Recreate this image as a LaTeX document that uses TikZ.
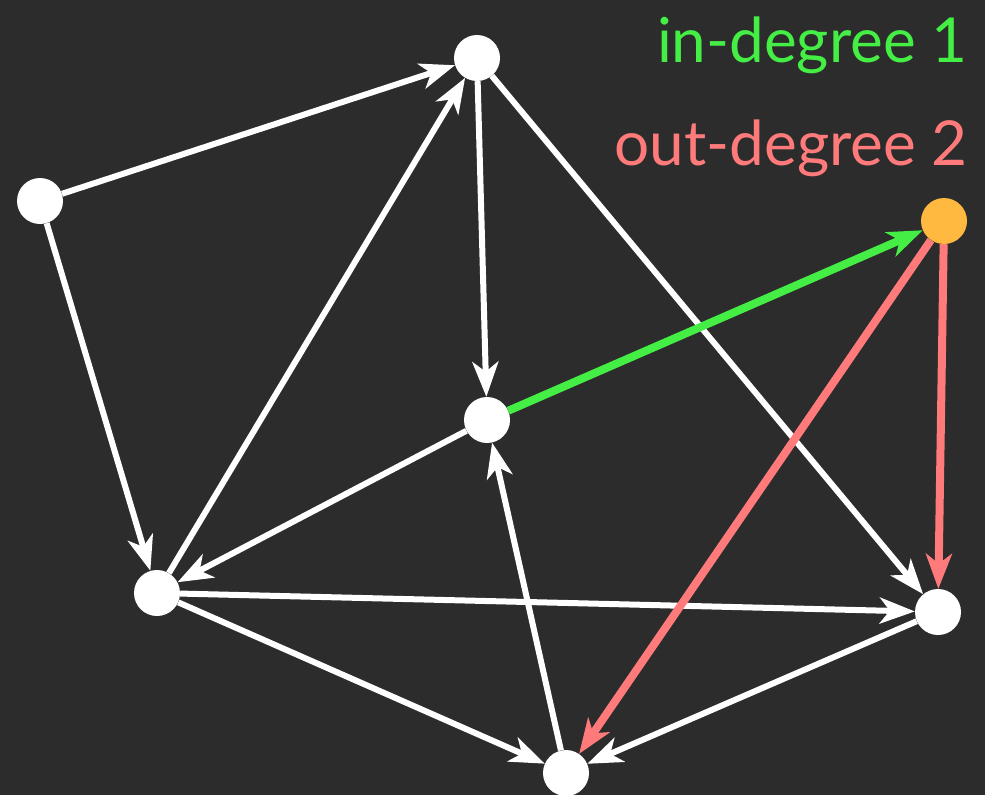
\documentclass[tikz,border=0pt]{standalone}
\usepackage{fontspec}
\setmainfont{Lato}
\usetikzlibrary{arrows.meta}
\definecolor{board}{HTML}{2C2C2C}
\definecolor{ingreen}{HTML}{44EE44}
\definecolor{outpink}{HTML}{FF7B7B}
\definecolor{vorange}{HTML}{FFB940}
\tikzset{
  vert/.style={circle, fill=white, minimum size=46pt, inner sep=0pt},
  edge/.style={draw=white, line width=6pt, -{Stealth[length=35pt,width=26pt,inset=10pt]}},
  inedge/.style={edge, draw=ingreen, line width=8pt},
  outedge/.style={edge, draw=outpink, line width=8pt},
  lbl/.style={font=\fontsize{62}{62}\selectfont, anchor=base east, inner sep=0pt}
}
\begin{document}
\begin{tikzpicture}[x=1pt,y=-1pt]
\fill[board] (0,0) rectangle (985,795);
\useasboundingbox (0,0) rectangle (985,795);
\node[vert] (A) at (477,58) {};
\node[vert] (B) at (40,201) {};
\node[vert, fill=vorange] (C) at (944,221) {};
\node[vert] (D) at (487,420) {};
\node[vert] (E) at (157,593) {};
\node[vert] (F) at (938,612) {};
\node[vert] (G) at (566,773) {};
\path[edge] (B) -- (A);
\path[edge] (B) -- (E);
\path[edge] (E) -- (A);
\path[edge] (A) -- (D);
\path[edge] (A) -- (F);
\path[edge] (D) -- (E);
\path[edge] (E) -- (F);
\path[edge] (E) -- (G);
\path[edge] (F) -- (G);
\path[edge] (G) -- (D);
\path[inedge] (D) -- (C);
\path[outedge] (C) -- (F);
\path[outedge] (C) -- (G);
\node[lbl, text=ingreen] (t1) at (968,62) {in-degree 1};
\node[lbl, text=outpink] (t2) at (968,165) {out-degree 2};
\end{tikzpicture}
\end{document}
